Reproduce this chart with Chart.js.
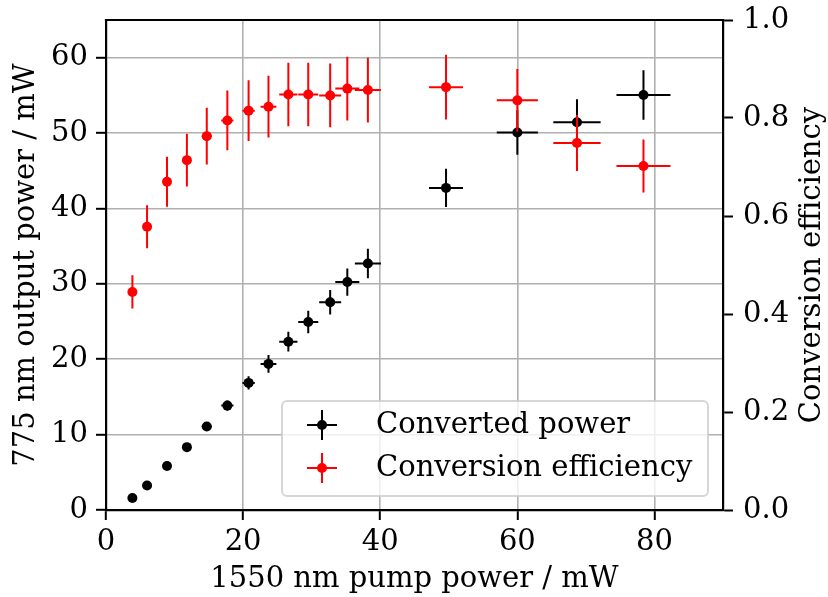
<!DOCTYPE html>
<html>
<head>
<meta charset="utf-8">
<script src="https://cdn.jsdelivr.net/npm/chart.js@4"></script>
<style>
  html, body { margin: 0; padding: 0; background: #fff; }
  canvas { display: block; }
</style>
</head>
<body>
<canvas id="chart" width="828" height="597"></canvas>
<script>
// pump power in mW (same x for both series)
const pumpPower = [3.85, 5.99, 8.9, 11.8, 14.7, 17.7, 20.8, 23.7, 26.6, 29.5, 32.7, 35.2, 38.2, 49.6, 60.0, 68.7, 78.4];
const pumpErr = [0.19, 0.3, 0.45, 0.59, 0.74, 0.89, 0.9, 1.15, 1.33, 1.46, 1.6, 1.75, 1.9, 2.48, 3.0, 3.45, 3.94];

// 775 nm converted power in mW
const convPower = [1.59, 3.26, 5.83, 8.34, 11.07, 13.85, 16.86, 19.38, 22.33, 24.94, 27.55, 30.24, 32.71, 42.73, 50.07, 51.43, 55.05];
const convErr = [0.08, 0.16, 0.29, 0.42, 0.55, 0.69, 0.88, 1.17, 1.32, 1.48, 1.63, 1.81, 1.96, 2.54, 2.96, 3.05, 3.29];

// conversion efficiency
const efficiency = [0.445, 0.578, 0.670, 0.714, 0.763, 0.795, 0.815, 0.823, 0.848, 0.848, 0.846, 0.860, 0.857, 0.863, 0.836, 0.749, 0.702];
const effErr = [0.034, 0.044, 0.051, 0.054, 0.058, 0.061, 0.062, 0.063, 0.065, 0.065, 0.065, 0.065, 0.066, 0.066, 0.064, 0.057, 0.054];

const xTicks = [0, 20, 40, 60, 80];
const powerTicks = [0, 10, 20, 30, 40, 50, 60];
const effTicks = [0, 0.2, 0.4, 0.6, 0.8, 1.0];

const FONT = 'DejaVu Serif';
const FS = 29;
Chart.defaults.font.family = FONT;
Chart.defaults.font.size = FS;
Chart.defaults.color = '#000';

const toPoints = (xs, ys) => xs.map((x, i) => ({ x: x, y: ys[i] }));

// draws x/y error bars of a dataset just before its markers
const errorBars = {
  id: 'errorBars',
  beforeDatasetDraw(chart, args) {
    const ds = chart.data.datasets[args.index];
    const meta = args.meta;
    const xs = chart.scales[meta.xAxisID];
    const ys = chart.scales[meta.yAxisID];
    const ctx = chart.ctx;
    ctx.save();
    ctx.strokeStyle = ds.backgroundColor;
    ctx.lineWidth = 2;
    ctx.beginPath();
    ds.data.forEach((p, i) => {
      const px = xs.getPixelForValue(p.x);
      const py = ys.getPixelForValue(p.y);
      ctx.moveTo(xs.getPixelForValue(p.x - ds.xErr[i]), py);
      ctx.lineTo(xs.getPixelForValue(p.x + ds.xErr[i]), py);
      ctx.moveTo(px, ys.getPixelForValue(p.y - ds.yErr[i]));
      ctx.lineTo(px, ys.getPixelForValue(p.y + ds.yErr[i]));
    });
    ctx.stroke();
    ctx.restore();
  }
};

// top spine, right axis title and the framed legend
const decorations = {
  id: 'decorations',
  afterDraw(chart) {
    const ctx = chart.ctx;
    const a = chart.chartArea;
    ctx.save();
    ctx.strokeStyle = '#000';
    ctx.lineWidth = 2.2;
    ctx.beginPath();
    ctx.moveTo(a.left - 1.1, a.top);
    ctx.lineTo(a.right + 1.1, a.top);
    ctx.stroke();

    ctx.font = FS + 'px "' + FONT + '"';
    ctx.fillStyle = '#000';
    ctx.save();
    ctx.translate(a.right + 89, (a.top + a.bottom) / 2);
    ctx.rotate(-Math.PI / 2);
    ctx.textAlign = 'center';
    ctx.textBaseline = 'middle';
    ctx.fillText('Conversion efficiency', 0, 0);
    ctx.restore();

    // legend box
    const bw = 426, bh = 95;
    const bx = a.right - 15 - bw, by = a.bottom - 14 - bh;
    ctx.beginPath();
    ctx.roundRect(bx, by, bw, bh, 5);
    ctx.fillStyle = 'rgba(255,255,255,0.8)';
    ctx.fill();
    ctx.strokeStyle = 'rgba(204,204,204,0.8)';
    ctx.lineWidth = 2;
    ctx.stroke();

    const rows = [0, 1].map(i => chart.data.datasets[i]);
    rows.forEach((ds, i) => {
      const cy = by + 24 + i * 43;
      const cx = bx + 40;
      ctx.strokeStyle = ds.backgroundColor;
      ctx.lineWidth = 2;
      ctx.beginPath();
      ctx.moveTo(cx - 15, cy); ctx.lineTo(cx + 15, cy);
      ctx.moveTo(cx, cy - 15); ctx.lineTo(cx, cy + 15);
      ctx.stroke();
      ctx.fillStyle = ds.backgroundColor;
      ctx.beginPath();
      ctx.arc(cx, cy, 5, 0, Math.PI * 2);
      ctx.fill();
      ctx.fillStyle = '#000';
      ctx.textAlign = 'left';
      ctx.textBaseline = 'middle';
      ctx.fillText(ds.label, bx + 94, cy);
    });
    ctx.restore();
  }
};

const gridStyle = { color: '#b0b0b0', lineWidth: 1.6, tickColor: '#000', tickLength: 10, tickWidth: 2 };
const noOverflow = s => { s.paddingTop = 0; s.paddingBottom = 0; };

new Chart(document.getElementById('chart').getContext('2d'), {
  type: 'scatter',
  data: {
    datasets: [
      {
        label: 'Converted power',
        data: toPoints(pumpPower, convPower),
        xErr: pumpErr,
        yErr: convErr,
        backgroundColor: '#000000',
        borderColor: '#000000',
        pointRadius: 5,
        pointHoverRadius: 5,
        pointBorderWidth: 0,
        yAxisID: 'y',
        order: 2
      },
      {
        label: 'Conversion efficiency',
        data: toPoints(pumpPower, efficiency),
        xErr: pumpErr,
        yErr: effErr,
        backgroundColor: '#ff0000',
        borderColor: '#ff0000',
        pointRadius: 5,
        pointHoverRadius: 5,
        pointBorderWidth: 0,
        yAxisID: 'y2',
        order: 1
      }
    ]
  },
  options: {
    responsive: false,
    animation: false,
    devicePixelRatio: 1,
    events: [],
    layout: { padding: { top: 20, left: 0, right: 0, bottom: 0 } },
    plugins: { legend: { display: false }, tooltip: { enabled: false } },
    scales: {
      x: {
        type: 'linear', min: 0, max: 90,
        afterFit: s => { s.height = 87; s.paddingLeft = 0; s.paddingRight = 0; },
        afterBuildTicks: s => { s.ticks = xTicks.map(v => ({ value: v })); },
        ticks: { padding: 5, maxRotation: 0, autoSkip: false },
        grid: gridStyle,
        border: { color: '#000', width: 2.2 },
        title: { display: true, text: '1550 nm pump power / mW', padding: { top: 0, bottom: 0 } }
      },
      y: {
        type: 'linear', position: 'left', min: 0, max: 65,
        afterFit: s => { s.width = 106; noOverflow(s); },
        afterBuildTicks: s => { s.ticks = powerTicks.map(v => ({ value: v })); },
        ticks: { padding: 8, autoSkip: false },
        grid: gridStyle,
        border: { color: '#000', width: 2.2 },
        title: { display: true, text: '775 nm output power / mW', padding: { top: 9, bottom: 0 } }
      },
      y2: {
        type: 'linear', position: 'right', min: 0, max: 1,
        afterFit: s => { s.width = 105; noOverflow(s); },
        afterBuildTicks: s => { s.ticks = effTicks.map(v => ({ value: v })); },
        ticks: { padding: 10, autoSkip: false, callback: v => v.toFixed(1) },
        grid: { drawOnChartArea: false, tickColor: '#000', tickLength: 10, tickWidth: 2 },
        border: { color: '#000', width: 2.2 }
      }
    }
  },
  plugins: [errorBars, decorations]
});
</script>
</body>
</html>
